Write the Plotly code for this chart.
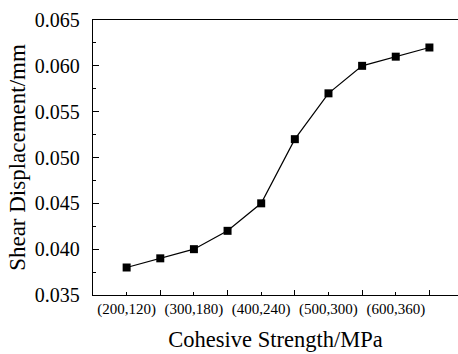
import plotly.graph_objects as go

categories = ["(200,120)", "(250,150)", "(300,180)", "(350,210)", "(400,240)",
              "(450,270)", "(500,300)", "(550,330)", "(600,360)", "(650,390)"]
shear_disp = [0.038, 0.039, 0.040, 0.042, 0.045, 0.052, 0.057, 0.060, 0.061, 0.062]
x_pos = list(range(1, len(categories) + 1))
label_pos = x_pos[0::2]
label_text = categories[0::2]

FONT = "'Liberation Serif', 'Times New Roman', Times, serif"

fig = go.Figure()
fig.add_trace(go.Scatter(
    x=x_pos, y=shear_disp, mode="lines+markers",
    line=dict(color="black", width=1.2),
    marker=dict(symbol="square", size=8, color="black"),
    showlegend=False,
))

fig.update_layout(
    width=458, height=354,
    margin=dict(l=93, r=0, t=20, b=59),
    paper_bgcolor="white", plot_bgcolor="white",
    font=dict(family=FONT, color="black"),
    xaxis=dict(
        range=[0, 10.85], showgrid=False, zeroline=False,
        showline=True, linecolor="black", linewidth=1.3, mirror=True,
        tickmode="array", tickvals=label_pos, ticktext=label_text,
        ticks="inside", ticklen=3, tickwidth=1.2, tickcolor="black",
        tickfont=dict(family=FONT, size=15, color="black"),
        ticklabelstandoff=0,
        minor=dict(tickmode="linear", tick0=0, dtick=2, ticks="inside",
                   ticklen=5, tickwidth=1.2, tickcolor="black", showgrid=False),
        title=dict(text="Cohesive Strength/MPa",
                   font=dict(family=FONT, size=22.5, color="black"), standoff=14),
    ),
    yaxis=dict(
        range=[0.035, 0.065], showgrid=False, zeroline=False,
        showline=True, linecolor="black", linewidth=1.3, mirror=False,
        tickmode="linear", tick0=0.035, dtick=0.005, tickformat=".3f",
        ticks="inside", ticklen=6, tickwidth=1.2, tickcolor="black",
        tickfont=dict(family=FONT, size=20, color="black"),
        ticklabelstandoff=8,
        minor=dict(tickmode="linear", tick0=0.0375, dtick=0.005, ticks="inside",
                   ticklen=3, tickwidth=1.2, tickcolor="black", showgrid=False),
        title=dict(text="Shear Displacement/mm",
                   font=dict(family=FONT, size=23, color="black"), standoff=2),
    ),
)

fig.write_html("out.html")
